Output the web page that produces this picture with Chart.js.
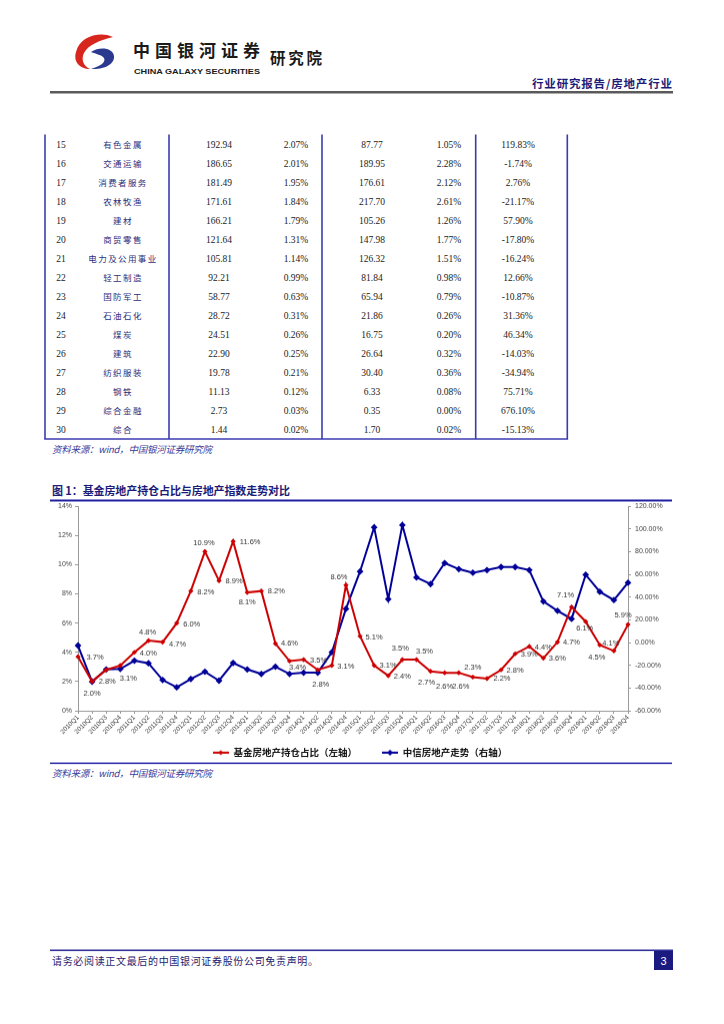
<!DOCTYPE html>
<html>
<head>
<meta charset="utf-8">
<script src="https://cdn.jsdelivr.net/npm/chart.js@4.4.1/dist/chart.umd.min.js"></script>
<style>
body{margin:0;width:724px;height:1024px;background:#fff;position:relative;overflow:hidden}
#page{position:absolute;left:0;top:0}
#chartBox{position:absolute;left:40px;top:498px;width:640px;height:290.5px}
</style>
</head>
<body>
<svg id="page" width="724" height="1024" xmlns="http://www.w3.org/2000/svg"></svg>
<div id="chartBox"><canvas id="trendChart"></canvas></div>
<script>
// ---- table data (rows 15-30) ----
const ranks = [15,16,17,18,19,20,21,22,23,24,25,26,27,28,29,30];
const industries = ["有色金属","交通运输","消费者服务","农林牧渔","建材","商贸零售","电力及公用事业","轻工制造","国防军工","石油石化","煤炭","建筑","纺织服装","钢铁","综合金融","综合"];
const holdNow = ["192.94","186.65","181.49","171.61","166.21","121.64","105.81","92.21","58.77","28.72","24.51","22.90","19.78","11.13","2.73","1.44"];
const shareNow = ["2.07%","2.01%","1.95%","1.84%","1.79%","1.31%","1.14%","0.99%","0.63%","0.31%","0.26%","0.25%","0.21%","0.12%","0.03%","0.02%"];
const holdPrev = ["87.77","189.95","176.61","217.70","105.26","147.98","126.32","81.84","65.94","21.86","16.75","26.64","30.40","6.33","0.35","1.70"];
const sharePrev = ["1.05%","2.28%","2.12%","2.61%","1.26%","1.77%","1.51%","0.98%","0.79%","0.26%","0.20%","0.32%","0.36%","0.08%","0.00%","0.02%"];
const holdChange = ["119.83%","-1.74%","2.76%","-21.17%","57.90%","-17.80%","-16.24%","12.66%","-10.87%","31.36%","46.34%","-14.03%","-34.94%","75.71%","676.10%","-15.13%"];

// ---- chart data ----
const quarters = ["2010Q1","2010Q2","2010Q3","2010Q4","2011Q1","2011Q2","2011Q3","2011Q4",
  "2012Q1","2012Q2","2012Q3","2012Q4","2013Q1","2013Q2","2013Q3","2013Q4",
  "2014Q1","2014Q2","2014Q3","2014Q4","2015Q1","2015Q2","2015Q3","2015Q4",
  "2016Q1","2016Q2","2016Q3","2016Q4","2017Q1","2017Q2","2017Q3","2017Q4",
  "2018Q1","2018Q2","2018Q3","2018Q4","2019Q1","2019Q2","2019Q3","2019Q4"];
const fundShare = [3.7,2.0,2.8,3.1,4.0,4.8,4.7,6.0,8.2,10.9,8.9,11.6,8.1,8.2,4.6,3.4,
  3.5,2.8,3.1,8.6,5.1,3.1,2.4,3.5,3.5,2.7,2.6,2.6,2.3,2.2,2.8,3.9,4.4,3.6,4.7,7.1,6.1,4.5,4.1,5.9];
const citicIndex = [-2.6,-34.4,-23.6,-23.2,-15.9,-18.2,-32.9,-39.4,-32.0,-25.6,-33.5,-17.9,-23.6,-27.6,-21.2,-27.6,
  -26.5,-26.5,-8.5,29.7,62.6,101.5,38.2,103.5,57.4,51.5,70.0,64.7,61.5,63.8,66.5,66.5,63.8,36.2,28.0,20.9,59.7,44.7,37.4,52.7];
const leftTicks = [0,14,2];
const rightTicks = [-60,120,20];
const seriesNames = ["基金房地产持仓占比（左轴）","中信房地产走势（右轴）"];

// label placement relative to each red point (style only)
const labelOffsets = [[17,1],[0,12],[1,12],[8,13],[14,1],[-1,-8],[15,2],[15,1],[15,1],[-1,-8],
  [15,0],[17,1],[0,10],[15,0],[14,0],[8,6],[15,1],[3,15],[14,1],[-7,-8],
  [14,1],[14,0],[14,1],[-2,-11],[8,-8],[-4,11],[0,14],[2,14],[0,-10],[15,0],
  [14,1],[14,1],[14,1],[14,0],[14,0],[-6,-12],[-1,7],[-3,12],[-3,-7],[-5,-9]];

const NS = "http://www.w3.org/2000/svg";
const svg = document.getElementById("page");
function el(tag, attrs, text) {
  const e = document.createElementNS(NS, tag);
  for (const k in attrs) e.setAttribute(k, attrs[k]);
  if (text !== undefined) e.textContent = text;
  svg.appendChild(e);
  return e;
}
const CJK = '"Noto Sans CJK SC", sans-serif';
const SERIF = '"Liberation Serif", serif';

// header
el("path", {d:"M113,37 C100,31 80,36 76,52 C73,62 80,69 90,69 C83,66 81,59 84,53 C88,45 100,40 113,37 Z", fill:"#d7261e"});
el("path", {d:"M91,52 C100,46 113,48 114,56 C115,64 104,70 91,69 C101,66 106,62 104,58 C102,55 96,54 91,52 Z", fill:"#2b3a8f"});
el("text", {x:133, y:56.5, "font-family":CJK, "font-size":17, "font-weight":"bold", fill:"#1a1a1a", textLength:127, lengthAdjust:"spacing"}, "中国银河证券");
el("text", {x:134, y:73.5, "font-family":'"Liberation Sans", sans-serif', "font-size":8, "font-weight":"bold", fill:"#1a1a1a", textLength:126, lengthAdjust:"spacingAndGlyphs"}, "CHINA GALAXY SECURITIES");
el("text", {x:270, y:64, "font-family":CJK, "font-size":15.5, "font-weight":"bold", fill:"#1a1a1a", textLength:52, lengthAdjust:"spacing"}, "研究院");
el("text", {x:532, y:87.5, "font-family":CJK, "font-size":11.5, "font-weight":"bold", fill:"#1c1c78", textLength:140, lengthAdjust:"spacing"}, "行业研究报告/房地产行业");
el("rect", {x:50, y:91, width:623, height:2.5, fill:"#5a5a5a"});

// table
const colCenters = [61, 123, 219, 296, 372, 449, 518];
const vLines = [45, 169, 322, 475.7, 567.3];
const rowTop = 134.5, rowH = 19;
const tableBottom = rowTop + ranks.length * rowH + 0.5;
vLines.forEach(x => el("line", {x1:x, y1:rowTop, x2:x, y2:tableBottom, stroke:"#3b3bb0", "stroke-width":1.6}));
el("line", {x1:vLines[0]-0.8, y1:tableBottom, x2:vLines[4]+0.8, y2:tableBottom, stroke:"#3b3bb0", "stroke-width":1.6});
ranks.forEach((r, i) => {
  const y = rowTop + i * rowH + rowH / 2 + 3.5;
  const cells = [String(r), industries[i], holdNow[i], shareNow[i], holdPrev[i], sharePrev[i], holdChange[i]];
  cells.forEach((t, c) => {
    if (c === 1) {
      el("text", {x:colCenters[c], y:y, "text-anchor":"middle", "font-family":CJK, "font-size":8.5, "letter-spacing":1.4, fill:"#2e2e7a"}, t);
    } else {
      el("text", {x:colCenters[c], y:y, "text-anchor":"middle", "font-family":SERIF, "font-size":9.5, fill:"#222"}, t);
    }
  });
});
el("text", {x:52, y:453, "font-family":CJK, "font-size":9.5, "font-style":"italic", fill:"#3a3a9a", textLength:160, lengthAdjust:"spacing"}, "资料来源：wind，中国银河证券研究院");

// figure title
el("text", {x:52, y:495, "font-family":CJK, "font-size":11, "font-weight":"bold", fill:"#1c1c78", textLength:238, lengthAdjust:"spacing"}, "图 1：基金房地产持仓占比与房地产指数走势对比");
el("rect", {x:50, y:499.5, width:622, height:2, fill:"#2020a0"});
el("rect", {x:50, y:762.5, width:622, height:1.6, fill:"#3535b0"});
el("text", {x:52, y:777, "font-family":CJK, "font-size":9.5, "font-style":"italic", fill:"#3a3a9a", textLength:160, lengthAdjust:"spacing"}, "资料来源：wind，中国银河证券研究院");

// footer
el("rect", {x:50, y:949.5, width:623, height:1.6, fill:"#33339a"});
el("text", {x:52, y:965, "font-family":CJK, "font-size":10, fill:"#1c1c70", textLength:266, lengthAdjust:"spacing"}, "请务必阅读正文最后的中国银河证券股份公司免责声明。");
el("rect", {x:654, y:951, width:19, height:19, fill:"#1a1a80"});
el("text", {x:663.5, y:964.5, "text-anchor":"middle", "font-family":'"Liberation Sans", sans-serif', "font-size":11, fill:"#fff"}, "3");

// ---- chart ----
function legendSwatch(color, r) {
  const c = document.createElement("canvas");
  c.width = 16; c.height = 8;
  const g = c.getContext("2d");
  g.strokeStyle = color; g.lineWidth = 2;
  g.beginPath(); g.moveTo(0, 4); g.lineTo(16, 4); g.stroke();
  g.fillStyle = color;
  g.beginPath(); g.moveTo(8, 4 - r); g.lineTo(8 + r, 4); g.lineTo(8, 4 + r); g.lineTo(8 - r, 4); g.closePath(); g.fill();
  return c;
}
const swatches = [legendSwatch("#cc0000", 2.5), legendSwatch("#000099", 3)];

const pointLabels = {
  id: "pointLabels",
  afterDatasetsDraw(chart) {
    const meta = chart.getDatasetMeta(0);
    const ctx = chart.ctx;
    ctx.save();
    ctx.font = '7.5px "Liberation Sans"';
    ctx.fillStyle = "#333";
    ctx.textAlign = "center";
    ctx.textBaseline = "middle";
    meta.data.forEach((pt, i) => {
      const [dx, dy] = labelOffsets[i];
      ctx.fillText(fundShare[i].toFixed(1) + "%", pt.x + dx, pt.y + dy);
    });
    ctx.restore();
  }
};

// the legend needs wide item spacing (padding) but should sit close under the axis labels
const legendLift = {
  id: "legendLift",
  afterLayout(chart) {
    chart.legend.top -= 22;
    chart.legend.bottom -= 22;
  }
};

const tickFont = {family: '"Liberation Sans"', size: 7};
new Chart(document.getElementById("trendChart"), {
  type: "line",
  data: {
    labels: quarters,
    datasets: [
      {
        label: seriesNames[0],
        data: fundShare,
        yAxisID: "yLeft",
        borderColor: "#cc0000",
        backgroundColor: "#cc0000",
        borderWidth: 2,
        pointStyle: "rectRot",
        pointRadius: 2.6,
        pointBorderWidth: 0,
        tension: 0
      },
      {
        label: seriesNames[1],
        data: citicIndex,
        yAxisID: "yRight",
        borderColor: "#000099",
        backgroundColor: "#000099",
        borderWidth: 2,
        pointStyle: "rectRot",
        pointRadius: 3.4,
        pointBorderWidth: 0,
        tension: 0
      }
    ]
  },
  options: {
    responsive: true,
    maintainAspectRatio: false,
    animation: false,
    layout: {padding: 0},
    plugins: {
      tooltip: {enabled: false},
      legend: {
        position: "bottom",
        labels: {
          usePointStyle: true,
          pointStyleWidth: 16,
          boxHeight: 8,
          padding: 25,
          color: "#111",
          font: {family: CJK, size: 9.5, weight: "bold"},
          generateLabels(chart) {
            return Chart.defaults.plugins.legend.labels.generateLabels(chart)
              .map((item, i) => Object.assign(item, {pointStyle: swatches[i]}));
          }
        }
      }
    },
    scales: {
      x: {
        offset: false,
        grid: {drawOnChartArea: false, drawTicks: true, tickLength: 3, color: "#9a9a9a"},
        border: {color: "#9a9a9a"},
        ticks: {autoSkip: false, maxRotation: 45, minRotation: 45, padding: 0, color: "#444", font: {family: '"Liberation Sans"', size: 6.5}},
        afterFit(scale) { scale.height = 34; }
      },
      yLeft: {
        position: "left",
        min: leftTicks[0], max: leftTicks[1],
        grid: {drawOnChartArea: false, drawTicks: true, tickLength: 3, color: "#9a9a9a"},
        border: {color: "#9a9a9a"},
        ticks: {stepSize: leftTicks[2], padding: 3, color: "#444", font: tickFont, callback: v => v + "%"},
        afterFit(scale) { scale.width = 38; }
      },
      yRight: {
        position: "right",
        min: rightTicks[0], max: rightTicks[1],
        grid: {drawOnChartArea: false, drawTicks: true, tickLength: 3, color: "#9a9a9a"},
        border: {color: "#9a9a9a"},
        ticks: {stepSize: rightTicks[2], padding: 4, color: "#444", font: tickFont, callback: v => v.toFixed(2) + "%"},
        afterFit(scale) { scale.width = 52; }
      }
    }
  },
  plugins: [pointLabels, legendLift]
});
</script>
</body>
</html>
